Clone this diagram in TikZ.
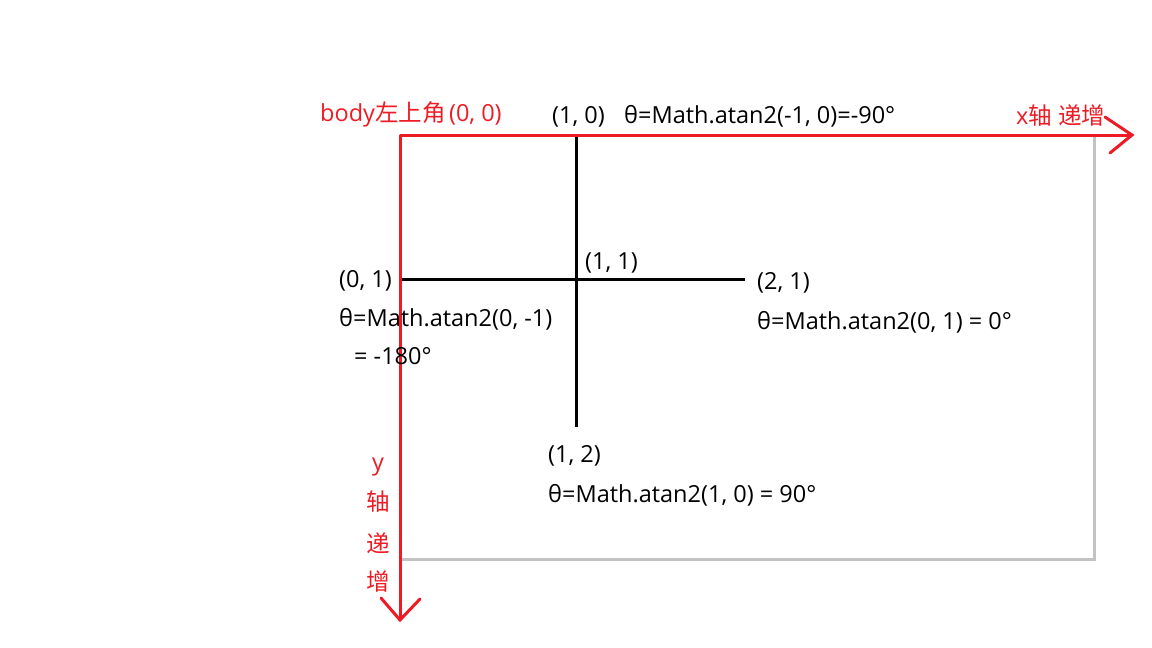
\documentclass[tikz,border=0pt]{standalone}
\usepackage{fontspec}
\setmainfont{Open Sans}
\newfontfamily\cjk{Noto Sans CJK SC}
\definecolor{axisred}{HTML}{ED1C24}
\definecolor{boxgray}{HTML}{C3C3C3}
\begin{document}
\begin{tikzpicture}[x=1pt,y=-1pt,
  lbl/.style={inner sep=0pt,anchor=base west,font=\fontsize{23.5}{28}\selectfont},
  redlbl/.style={lbl,text=axisred},
  cjkc/.style={inner sep=0pt,anchor=center,text=axisred,font=\cjk\fontsize{23.5}{28}\selectfont},
  axis/.style={draw=axisred,line width=3pt},
  barb/.style={draw=axisred,line width=3pt,line cap=round},
  grid/.style={draw=black,line width=3pt},
  frame/.style={draw=boxgray,line width=3pt}]
\useasboundingbox (0,0) rectangle (1152,648);
% coordinates
\coordinate (O) at (400,135);
\coordinate (BR) at (1094,559);
\coordinate (xtip) at (1132,135);
\coordinate (ytip) at (400,620);
\coordinate (top) at (576,135);
\coordinate (bot) at (576,427);
\coordinate (left) at (400,279);
\coordinate (right) at (745,279);
% frame
\draw[frame] (O) rectangle (BR);
% cross
\draw[grid] (top) -- (bot);
\draw[grid] (left) -- (right);
% axes
\draw[axis] (O) -- (xtip);
\draw[axis] (O) -- (ytip);
\draw[barb] (xtip) ++(-27,-18) -- (xtip) -- ++(-22,18);
\draw[barb] (ytip) ++(-19,-22) -- (ytip) -- ++(20,-21);
% labels
\node[redlbl] (origin) at (320,121) {body{\cjk 左上角}\hspace{0.15em}(0, 0)};
\node[lbl] (p10) at (552,123) {(1, 0)};
\node[lbl] (t10) at (624,123) {θ=Math.atan2(-1, 0)=-90°};
\node[redlbl] (xinc) at (1016,124) {x{\cjk 轴} {\cjk 递增}};
\node[lbl] (p01) at (339,287) {(0, 1)};
\node[lbl] (t01) at (339,326) {θ=Math.atan2(0, -1)};
\node[lbl] (t01b) at (354,364) {= -180°};
\node[lbl] (p11) at (585,269) {(1, 1)};
\node[lbl] (p21) at (757,289) {(2, 1)};
\node[lbl] (t21) at (757,329) {θ=Math.atan2(0, 1) = 0°};
\node[lbl] (p12) at (548,462) {(1, 2)};
\node[lbl] (t12) at (548,502) {θ=Math.atan2(1, 0) = 90°};
\node[redlbl,anchor=base] (ylab) at (378,470) {y};
\node[cjkc] (y1) at (378,502) {轴};
\node[cjkc] (y2) at (378,543) {递};
\node[cjkc] (y3) at (378,582) {增};
\end{tikzpicture}
\end{document}
